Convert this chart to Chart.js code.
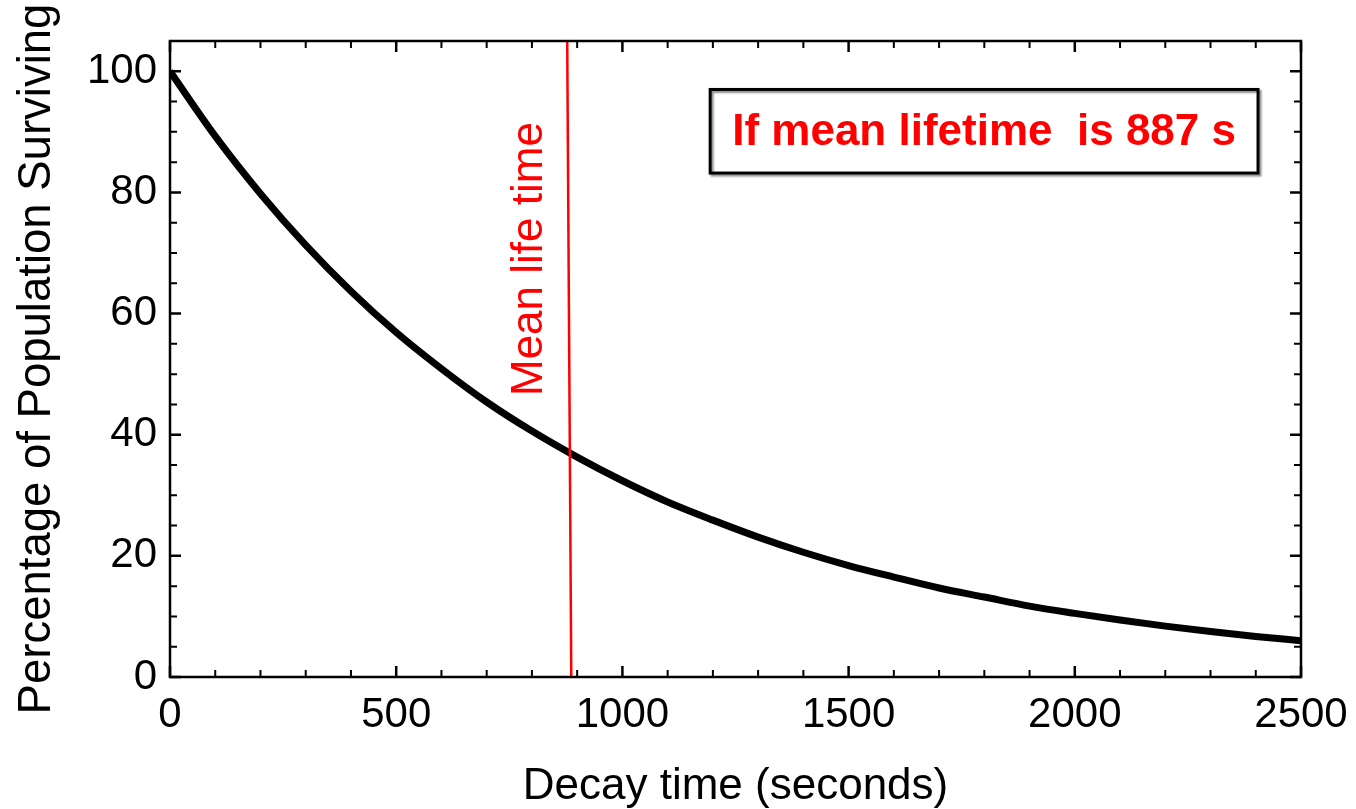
<!DOCTYPE html>
<html>
<head>
<meta charset="utf-8">
<script src="https://cdn.jsdelivr.net/npm/chart.js@4/dist/chart.umd.min.js"></script>
<style>
  html, body { margin: 0; padding: 0; background: #fff; }
</style>
</head>
<body>
<canvas id="decay" width="1356" height="809"></canvas>
<script>
// decay curve, every 100 s
const TIMES = [0, 100, 200, 300, 400, 500, 600, 700, 800, 900, 1000, 1100, 1200,
  1300, 1400, 1500, 1600, 1700, 1800, 1900, 2000, 2100, 2200, 2300, 2400, 2500];
const SURVIVING = [100, 89.3, 79.8, 71.3, 63.7, 56.9, 50.9, 45.4, 40.6, 36.3, 32.4, 28.9, 25.9,
  23.1, 20.6, 18.4, 16.5, 14.7, 13.2, 11.7, 10.5, 9.4, 8.4, 7.5, 6.7, 6.0];

// red mean-lifetime marker (slightly leaning in the original)
const MEAN_LINE_X = [887, 878];
const MEAN_LINE_Y = [0, 105];

const X_TICKS = [0, 500, 1000, 1500, 2000, 2500];
const Y_TICKS = [0, 20, 40, 60, 80, 100];
const X_MINOR_STEP = 100;
const Y_MINOR_STEP = 5;

const FONT = '"Liberation Sans", Arial, Helvetica, sans-serif';

// frame with inward ticks on all four sides, plus the two text notes
const framePlugin = {
  id: 'frame',
  afterDraw(chart) {
    const { ctx, chartArea: a, scales: { x, y } } = chart;
    ctx.save();
    ctx.strokeStyle = '#000';

    // minor + major ticks
    for (let v = x.min; v <= x.max; v += X_MINOR_STEP) {
      const px = x.getPixelForValue(v);
      const major = X_TICKS.includes(v);
      const len = major ? 11 : 7;
      ctx.lineWidth = major ? 2.5 : 2;
      ctx.beginPath();
      ctx.moveTo(px, a.bottom); ctx.lineTo(px, a.bottom - len);
      ctx.moveTo(px, a.top); ctx.lineTo(px, a.top + len);
      ctx.stroke();
    }
    for (let v = 0; v <= y.max; v += Y_MINOR_STEP) {
      const py = y.getPixelForValue(v);
      const major = Y_TICKS.includes(v);
      const len = major ? 11 : 7;
      ctx.lineWidth = major ? 2.5 : 2;
      ctx.beginPath();
      ctx.moveTo(a.left, py); ctx.lineTo(a.left + len, py);
      ctx.moveTo(a.right, py); ctx.lineTo(a.right - len, py);
      ctx.stroke();
    }

    ctx.lineWidth = 2.5;
    ctx.strokeRect(a.left, a.top, a.right - a.left, a.bottom - a.top);

    // rotated label beside the red line
    ctx.save();
    ctx.translate(x.getPixelForValue(796), y.getPixelForValue(69));
    ctx.rotate(-Math.PI / 2);
    ctx.fillStyle = '#ff0000';
    ctx.font = '44px ' + FONT;
    ctx.textAlign = 'center';
    ctx.textBaseline = 'middle';
    ctx.fillText('Mean life time', 0, 0);
    ctx.restore();

    // boxed note
    const bx0 = x.getPixelForValue(1194), bx1 = x.getPixelForValue(2405);
    const by0 = y.getPixelForValue(97), by1 = y.getPixelForValue(83.2);
    ctx.save();
    ctx.shadowColor = 'rgba(0,0,0,0.45)';
    ctx.shadowOffsetX = 2;
    ctx.shadowOffsetY = 2;
    ctx.shadowBlur = 2;
    ctx.lineWidth = 3;
    ctx.strokeRect(bx0, by0, bx1 - bx0, by1 - by0);
    ctx.restore();
    ctx.fillStyle = '#ff0000';
    ctx.font = 'bold 44px ' + FONT;
    ctx.textAlign = 'center';
    ctx.textBaseline = 'middle';
    ctx.fillText('If mean lifetime  is 887 s', (bx0 + bx1) / 2, (by0 + by1) / 2 + 2);

    ctx.restore();
  }
};

new Chart(document.getElementById('decay'), {
  type: 'line',
  data: {
    datasets: [{
      label: 'Mean life time',
      data: MEAN_LINE_X.map((t, i) => ({ x: t, y: MEAN_LINE_Y[i] })),
      borderColor: '#ff0000',
      borderWidth: 2.5,
      pointRadius: 0,
      order: 0
    }, {
      label: 'Surviving',
      data: TIMES.map((t, i) => ({ x: t, y: SURVIVING[i] })),
      borderColor: '#000',
      borderWidth: 7,
      pointRadius: 0,
      cubicInterpolationMode: 'monotone',
      order: 1
    }]
  },
  options: {
    responsive: false,
    animation: false,
    layout: { padding: { top: 41, right: 55, left: 0, bottom: 0 } },
    plugins: {
      legend: { display: false },
      tooltip: { enabled: false }
    },
    scales: {
      x: {
        type: 'linear',
        min: 0,
        max: 2500,
        grid: { display: false, drawTicks: false },
        border: { display: false },
        afterBuildTicks: s => { s.ticks = X_TICKS.map(v => ({ value: v })); },
        afterFit: s => { s.height = 132; s.paddingRight = 0; s.paddingLeft = 0; },
        ticks: {
          color: '#000',
          padding: 13,
          maxRotation: 0,
          callback: v => String(v),
          font: { family: FONT, size: 42 }
        },
        title: {
          display: true,
          text: 'Decay time (seconds)',
          color: '#000',
          padding: 0,
          font: { family: FONT, size: 44, lineHeight: 1 }
        }
      },
      y: {
        type: 'linear',
        min: 0,
        max: 105,
        grid: { display: false, drawTicks: false },
        border: { display: false },
        afterBuildTicks: s => { s.ticks = Y_TICKS.map(v => ({ value: v })); },
        afterFit: s => { s.width = 170; s.paddingTop = 0; s.paddingBottom = 0; },
        ticks: {
          color: '#000',
          padding: 13,
          callback: v => String(v),
          font: { family: FONT, size: 42 }
        },
        title: {
          display: true,
          text: 'Percentage of Population Surviving',
          color: '#000',
          padding: { top: 15, bottom: 0 },
          font: { family: FONT, size: 45.5, lineHeight: 1 }
        }
      }
    }
  },
  plugins: [framePlugin]
});
</script>
</body>
</html>
